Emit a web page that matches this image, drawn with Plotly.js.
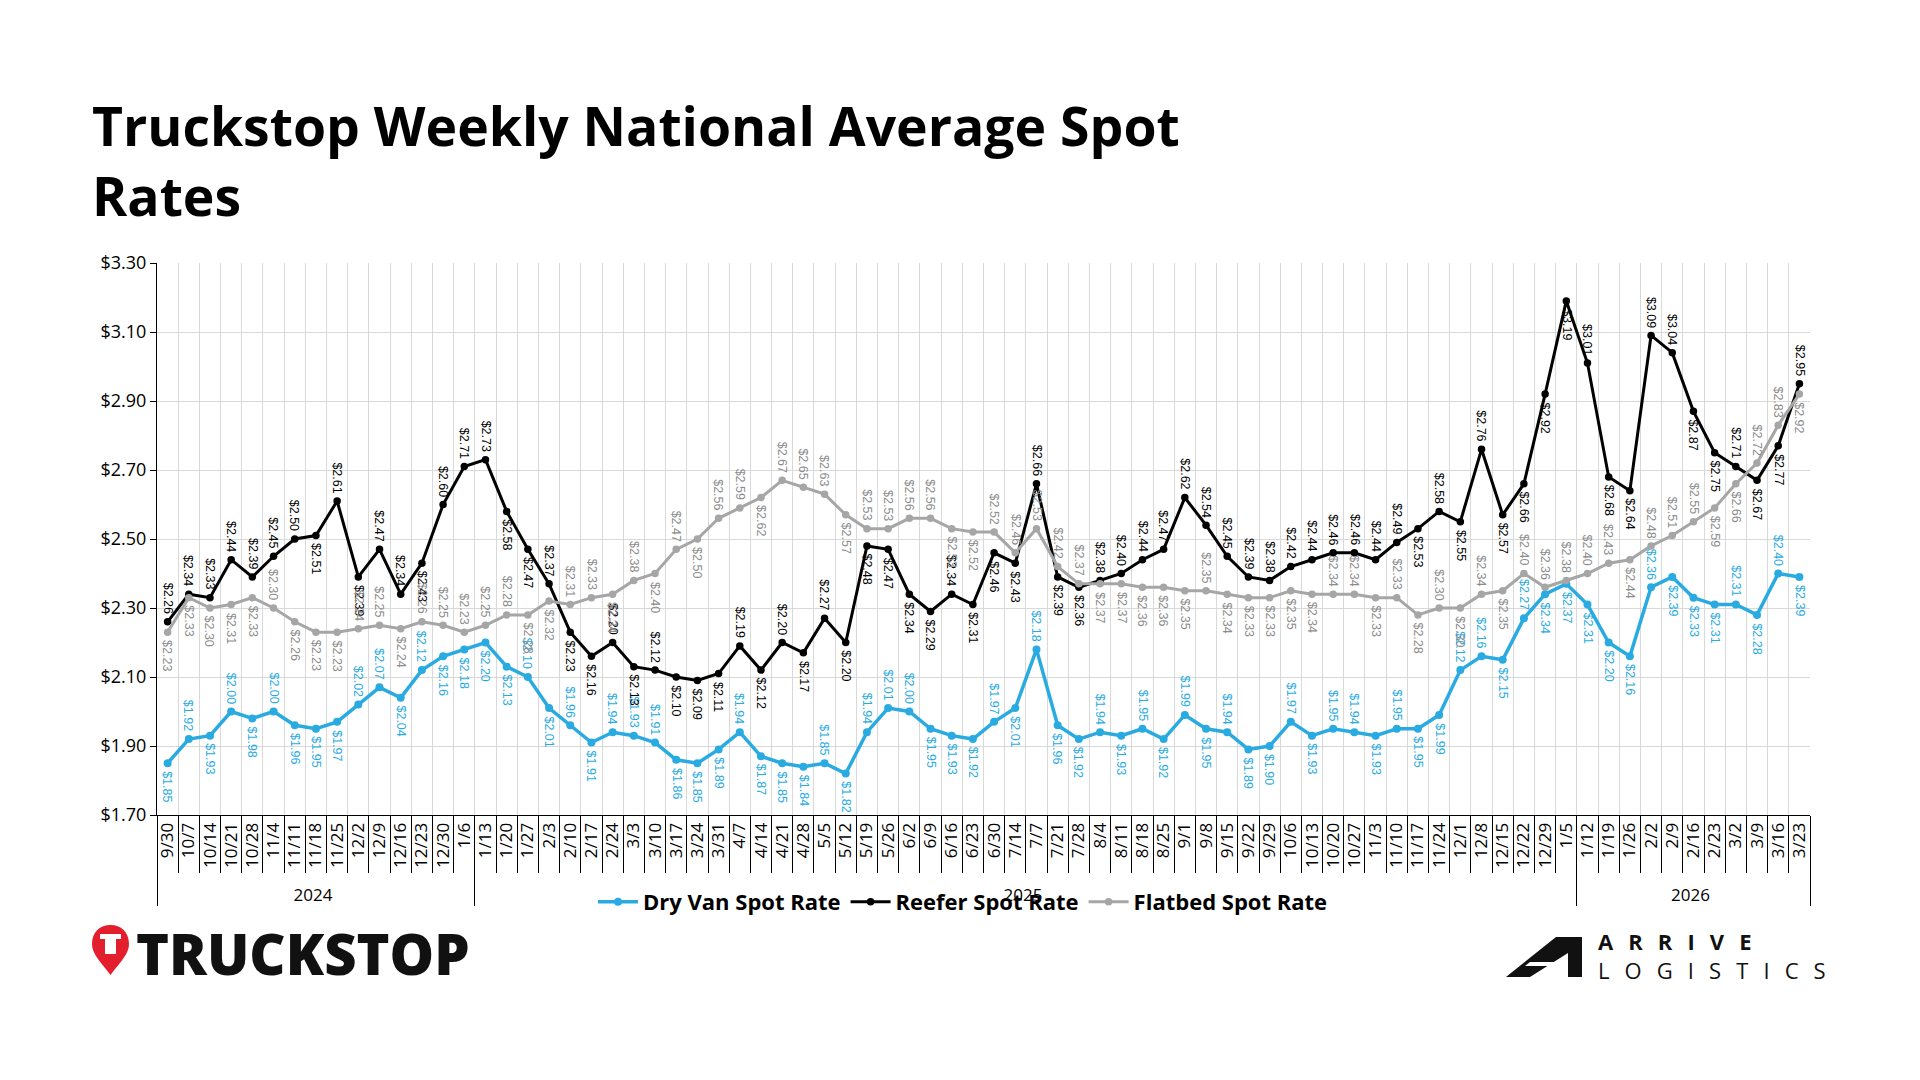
<!DOCTYPE html>
<html>
<head>
<meta charset="utf-8">
<script src="https://cdn.plot.ly/plotly-3.0.1.min.js"></script>
<style>
html,body{margin:0;padding:0;background:#fff;}
#chart{width:1920px;height:1080px;}
</style>
</head>
<body>
<div id="chart"></div>
<script>
// ---------- DATA ----------
const yearOfWeek = [
  "2024","2024","2024","2024","2024","2024","2024","2024","2024","2024","2024","2024","2024","2024","2024",
  "2025","2025","2025","2025","2025","2025","2025","2025","2025","2025","2025","2025","2025",
  "2025","2025","2025","2025","2025","2025","2025","2025","2025","2025","2025","2025","2025",
  "2025","2025","2025","2025","2025","2025","2025","2025","2025","2025","2025","2025","2025",
  "2025","2025","2025","2025","2025","2025","2025","2025","2025","2025","2025","2025","2025",
  "2026","2026","2026","2026","2026","2026","2026","2026","2026","2026","2026"
];
const weekLabels = [
  "9/30","10/7","10/14","10/21","10/28","11/4","11/11","11/18","11/25","12/2","12/9","12/16","12/23","12/30","1/6",
  "1/13","1/20","1/27","2/3","2/10","2/17","2/24","3/3","3/10","3/17","3/24","3/31","4/7",
  "4/14","4/21","4/28","5/5","5/12","5/19","5/26","6/2","6/9","6/16","6/23","6/30","7/14",
  "7/7","7/21","7/28","8/4","8/11","8/18","8/25","9/1","9/8","9/15","9/22","9/29","10/6",
  "10/13","10/20","10/27","11/3","11/10","11/17","11/24","12/1","12/8","12/15","12/22","12/29","1/5",
  "1/12","1/19","1/26","2/2","2/9","2/16","2/23","3/2","3/9","3/16","3/23"
];
const dryVan = [
  1.85,1.92,1.93,2.00,1.98,2.00,1.96,1.95,1.97,2.02,2.07,2.04,2.12,2.16,2.18,
  2.20,2.13,2.10,2.01,1.96,1.91,1.94,1.93,1.91,1.86,1.85,1.89,1.94,
  1.87,1.85,1.84,1.85,1.82,1.94,2.01,2.00,1.95,1.93,1.92,1.97,2.01,
  2.18,1.96,1.92,1.94,1.93,1.95,1.92,1.99,1.95,1.94,1.89,1.90,1.97,
  1.93,1.95,1.94,1.93,1.95,1.95,1.99,2.12,2.16,2.15,2.27,2.34,2.37,
  2.31,2.20,2.16,2.36,2.39,2.33,2.31,2.31,2.28,2.40,2.39
];
const reefer = [
  2.26,2.34,2.33,2.44,2.39,2.45,2.50,2.51,2.61,2.39,2.47,2.34,2.43,2.60,2.71,
  2.73,2.58,2.47,2.37,2.23,2.16,2.20,2.13,2.12,2.10,2.09,2.11,2.19,
  2.12,2.20,2.17,2.27,2.20,2.48,2.47,2.34,2.29,2.34,2.31,2.46,2.43,
  2.66,2.39,2.36,2.38,2.40,2.44,2.47,2.62,2.54,2.45,2.39,2.38,2.42,
  2.44,2.46,2.46,2.44,2.49,2.53,2.58,2.55,2.76,2.57,2.66,2.92,3.19,
  3.01,2.68,2.64,3.09,3.04,2.87,2.75,2.71,2.67,2.77,2.95
];
const flatbed = [
  2.23,2.33,2.30,2.31,2.33,2.30,2.26,2.23,2.23,2.24,2.25,2.24,2.26,2.25,2.23,
  2.25,2.28,2.28,2.32,2.31,2.33,2.34,2.38,2.40,2.47,2.50,2.56,2.59,
  2.62,2.67,2.65,2.63,2.57,2.53,2.53,2.56,2.56,2.53,2.52,2.52,2.46,
  2.53,2.42,2.37,2.37,2.37,2.36,2.36,2.35,2.35,2.34,2.33,2.33,2.35,
  2.34,2.34,2.34,2.33,2.33,2.28,2.30,2.30,2.34,2.35,2.40,2.36,2.38,
  2.40,2.43,2.44,2.48,2.51,2.55,2.59,2.66,2.72,2.83,2.92
];
const seriesNames = ["Dry Van Spot Rate","Reefer Spot Rate","Flatbed Spot Rate"];
const yTickMin = 1.70, yTickMax = 3.30, yTickStep = 0.20;

// ---------- STYLE ----------
const BLUE = "#29abe2", BLACK = "#000000", GRAY = "#a6a6a6", GRAYTXT = "#8c8c8c";
const FONT = "Open Sans, Liberation Sans, sans-serif";
const W = 1920, H = 1080;
const M = {l:157, r:110, t:263, b:265};
const PW = W - M.l - M.r, PH = H - M.t - M.b;
const px2x = px => (px - M.l) / PW;
const py2y = py => (H - M.b - py) / PH;

const xCats = [yearOfWeek, weekLabels];
const series = [
  {name: seriesNames[0], vals: dryVan,  color: BLUE,  txt: BLUE,    lw: 3.5, ms: 8},
  {name: seriesNames[1], vals: reefer,  color: BLACK, txt: BLACK,   lw: 3,   ms: 7.5},
  {name: seriesNames[2], vals: flatbed, color: GRAY,  txt: GRAYTXT, lw: 3,   ms: 7.5}
];

const traces = series.map(s => ({
  type: "scatter", mode: "lines+markers", name: s.name,
  x: xCats, y: s.vals,
  line: {color: s.color, width: s.lw},
  marker: {color: s.color, size: s.ms},
  hoverinfo: "skip"
}));

// data labels (rotated); side from local shape, switched if another series crowds it
const allVals = series.map(s => s.vals);
function gapAbove(si, i) {
  const v = allVals[si][i]; let g = yTickMax - v;
  allVals.forEach((o, k) => { if (k !== si && o[i] >= v) g = Math.min(g, o[i] - v); });
  return g;
}
function gapBelow(si, i) {
  const v = allVals[si][i]; let g = v - yTickMin;
  allVals.forEach((o, k) => { if (k !== si && o[i] <= v) g = Math.min(g, v - o[i]); });
  return g;
}
const annotations = [];
series.forEach((s, si) => {
  const v = s.vals;
  v.forEach((val, i) => {
    const p = i > 0 ? v[i-1] : v[i+1];
    const n = i < v.length - 1 ? v[i+1] : v[i-1];
    let above = val >= (p + n) / 2;
    const ga = gapAbove(si, i), gb = gapBelow(si, i);
    const need = 0.12;
    if (above && ga < need && gb > ga) above = false;
    else if (!above && gb < need && ga > gb) above = true;
    annotations.push({
      x: i, y: val, xref: "x", yref: "y",
      text: "$" + val.toFixed(2),
      textangle: 90, showarrow: false,
      font: {family: "Liberation Sans, Arial, sans-serif", size: 12.5, color: s.txt},
      xanchor: "center", yanchor: above ? "bottom" : "top",
      yshift: above ? 6 : -6
    });
  });
});

// logos as text
const sp = "  \u2009";
annotations.push({
  xref: "paper", yref: "paper", x: px2x(134), y: py2y(953),
  xanchor: "left", yanchor: "middle", showarrow: false,
  text: "TRUCKSTOP",
  font: {family: FONT, size: 56, weight: 800, color: "#111"}
});
annotations.push({
  xref: "paper", yref: "paper", x: px2x(1596), y: py2y(955),
  xanchor: "left", yanchor: "middle", showarrow: false, align: "left",
  text: "<b>" + "ARRIVE".split("").join(sp) + "</b><br>" + "LOGISTICS".split("").join(sp),
  font: {family: FONT, size: 22, color: "#111"}
});

// decorative logo marks (paper coords from pixel positions)
function pathPx(cmds) {
  return cmds.map(c => {
    if (c === "Z") return "Z";
    const [op, ...pts] = c;
    const out = [];
    for (let k = 0; k < pts.length; k += 2) out.push(px2x(pts[k]).toFixed(5) + "," + py2y(pts[k+1]).toFixed(5));
    return op + out.join(" ");
  }).join(" ");
}
const shapes = [
  {type: "path", xref: "paper", yref: "paper", fillcolor: "#e31e2d", line: {width: 0},
   path: pathPx([["M",110.5,975],["C",100,961,92,954,92,944],["C",92,932,100,925,110.5,925],["C",121,925,129,932,129,944],["C",129,954,121,961,110.5,975],"Z"])},
  {type: "path", xref: "paper", yref: "paper", fillcolor: "#ffffff", line: {width: 0},
   path: pathPx([["M",100,934],["L",121,934],["L",121,939],["L",116,939],["L",116,954],["L",105,954],["L",105,939],["L",100,939],"Z"])},
  {type: "path", xref: "paper", yref: "paper", fillcolor: "#111", line: {width: 0},
   path: pathPx([["M",1506,977],["L",1556,937],["L",1582,937],["L",1582,977],["L",1568,977],["L",1568,953],["L",1530,977],"Z"])},
  {type: "path", xref: "paper", yref: "paper", fillcolor: "#ffffff", line: {width: 0},
   path: pathPx([["M",1530,962],["L",1568,962],["L",1568,966],["L",1525,966],"Z"])}
];

const layout = {
  width: W, height: H,
  paper_bgcolor: "#ffffff", plot_bgcolor: "#ffffff",
  margin: M,
  showlegend: true,
  title: {
    text: "Truckstop Weekly National Average Spot<br>Rates",
    x: 92 / W, xref: "container", xanchor: "left",
    y: 1 - 146 / H, yref: "container", yanchor: "top",
    font: {family: FONT, size: 53.5, weight: 700, color: "#000"}
  },
  xaxis: {
    type: "multicategory",
    range: [-0.5, weekLabels.length - 0.5], autorange: false,
    tickmode: "linear", tick0: 0, dtick: 1,
    tickangle: -90,
    tickfont: {family: FONT, size: 17, color: "#000"},
    showgrid: true, gridcolor: "#d9d9d9", gridwidth: 1,
    showline: true, linecolor: "#000", linewidth: 1,
    ticks: "outside", ticklen: 57, tickcolor: "#000", tickwidth: 1,
    showdividers: true, dividercolor: "#000", dividerwidth: 1,
    zeroline: false, fixedrange: true
  },
  yaxis: {
    range: [yTickMin, yTickMax], autorange: false, tick0: yTickMin, dtick: yTickStep,
    tickformat: ".2f", tickprefix: "$",
    tickfont: {family: FONT, size: 18, color: "#000"},
    showgrid: true, gridcolor: "#d9d9d9", gridwidth: 1,
    showline: true, linecolor: "#000", linewidth: 1,
    ticks: "outside", ticklen: 6, tickcolor: "#000",
    zeroline: false, fixedrange: true
  },
  legend: {
    orientation: "h", x: px2x(963), xanchor: "center", y: py2y(902), yanchor: "middle",
    bgcolor: "rgba(0,0,0,0)",
    font: {family: FONT, size: 22, weight: 700, color: "#000"},
    itemwidth: 40, traceorder: "normal"
  },
  annotations: annotations,
  shapes: shapes
};

Plotly.newPlot("chart", traces, layout, {displayModeBar: false, staticPlot: true});
</script>
</body>
</html>
